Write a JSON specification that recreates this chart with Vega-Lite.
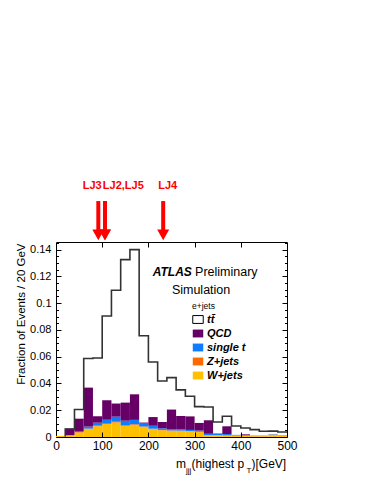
{
  "$schema": "https://vega.github.io/schema/vega-lite/v6.json",
  "width": 231,
  "height": 195,
  "autosize": {"type": "none"},
  "padding": {"left": 56, "top": 242, "right": 91, "bottom": 53},
  "background": "white",
  "config": {
    "view": {"stroke": "#000", "strokeWidth": 1},
    "font": "Liberation Sans",
    "axis": {"grid": false, "domain": false, "tickColor": "#000", "tickWidth": 1, "labelColor": "#000", "labelFont": "Liberation Sans", "titleFont": "Liberation Sans", "titleColor": "#000"}
  },
  "resolve": {"axis": {"x": "independent", "y": "independent"}},
  "datasets": {
    "hist": [
      {"lo": 0, "hi": 20, "w": 0.0008, "wz": 0.0008, "wzs": 0.0008, "all": 0.0008, "tt": 0.0003},
      {"lo": 20, "hi": 40, "w": 0.0010, "wz": 0.0012, "wzs": 0.0015, "all": 0.0063, "tt": 0.0060},
      {"lo": 40, "hi": 60, "w": 0.0033, "wz": 0.0037, "wzs": 0.0045, "all": 0.0137, "tt": 0.0205},
      {"lo": 60, "hi": 80, "w": 0.0058, "wz": 0.0063, "wzs": 0.0078, "all": 0.0369, "tt": 0.0586},
      {"lo": 80, "hi": 100, "w": 0.0080, "wz": 0.0085, "wzs": 0.0107, "all": 0.0155, "tt": 0.0590},
      {"lo": 100, "hi": 120, "w": 0.0098, "wz": 0.0104, "wzs": 0.0128, "all": 0.0274, "tt": 0.0904},
      {"lo": 120, "hi": 140, "w": 0.0108, "wz": 0.0114, "wzs": 0.0152, "all": 0.0250, "tt": 0.1096},
      {"lo": 140, "hi": 160, "w": 0.0082, "wz": 0.0087, "wzs": 0.0122, "all": 0.0257, "tt": 0.1325},
      {"lo": 160, "hi": 180, "w": 0.0090, "wz": 0.0095, "wzs": 0.0128, "all": 0.0319, "tt": 0.1400},
      {"lo": 180, "hi": 200, "w": 0.0075, "wz": 0.0079, "wzs": 0.0105, "all": 0.0108, "tt": 0.0757},
      {"lo": 200, "hi": 220, "w": 0.0058, "wz": 0.0062, "wzs": 0.0084, "all": 0.0149, "tt": 0.0560},
      {"lo": 220, "hi": 240, "w": 0.0050, "wz": 0.0053, "wzs": 0.0065, "all": 0.0112, "tt": 0.0418},
      {"lo": 240, "hi": 260, "w": 0.0046, "wz": 0.0049, "wzs": 0.0059, "all": 0.0205, "tt": 0.0444},
      {"lo": 260, "hi": 280, "w": 0.0045, "wz": 0.0048, "wzs": 0.0057, "all": 0.0157, "tt": 0.0352},
      {"lo": 280, "hi": 300, "w": 0.0042, "wz": 0.0045, "wzs": 0.0053, "all": 0.0154, "tt": 0.0304},
      {"lo": 300, "hi": 320, "w": 0.0037, "wz": 0.0040, "wzs": 0.0048, "all": 0.0105, "tt": 0.0227},
      {"lo": 320, "hi": 340, "w": 0.0012, "wz": 0.0014, "wzs": 0.0024, "all": 0.0125, "tt": 0.0224},
      {"lo": 340, "hi": 360, "w": 0.0012, "wz": 0.0014, "wzs": 0.0026, "all": 0.0027, "tt": 0.0112},
      {"lo": 360, "hi": 380, "w": 0.0010, "wz": 0.0012, "wzs": 0.0022, "all": 0.0080, "tt": 0.0155},
      {"lo": 380, "hi": 400, "w": 0.0010, "wz": 0.0012, "wzs": 0.0016, "all": 0.0016, "tt": 0.0082},
      {"lo": 400, "hi": 420, "w": 0.0008, "wz": 0.0010, "wzs": 0.0014, "all": 0.0020, "tt": 0.0067},
      {"lo": 420, "hi": 440, "w": 0.0006, "wz": 0.0007, "wzs": 0.0010, "all": 0.0010, "tt": 0.0055},
      {"lo": 440, "hi": 460, "w": 0.0006, "wz": 0.0007, "wzs": 0.0010, "all": 0.0010, "tt": 0.0043},
      {"lo": 460, "hi": 480, "w": 0.0016, "wz": 0.0018, "wzs": 0.0021, "all": 0.0021, "tt": 0.0044},
      {"lo": 480, "hi": 500, "w": 0.0008, "wz": 0.0009, "wzs": 0.0012, "all": 0.0012, "tt": 0.0037}
    ],
    "lj": [
      {"event": "LJ3", "m": 91.6},
      {"event": "LJ2", "m": 106},
      {"event": "LJ5", "m": 106},
      {"event": "LJ4", "m": 232}
    ]
  },
  "layer": [
    {
      "data": {"name": "hist"},
      "mark": {"type": "bar"},
      "encoding": {
        "x": {"field": "lo", "type": "quantitative", "scale": {"domain": [0, 500], "nice": false, "zero": false},
              "axis": {"orient": "bottom", "values": [0, 100, 200, 300, 400, 500], "ticks": false, "tickSize": 0, "labelPadding": 3, "labelFontSize": 12, "labelFlush": false, "labelOverlap": false, "domain": true, "domainColor": "#000", "domainWidth": 1, "zindex": 1, "title": null}},
        "x2": {"field": "hi"},
        "y": {"field": "w", "type": "quantitative", "scale": {"domain": [0, 0.1457], "nice": false, "zero": true},
              "axis": {"orient": "left", "values": [0, 0.02, 0.04, 0.06, 0.08, 0.1, 0.12, 0.14], "format": "~g", "ticks": false, "tickSize": 0, "labelPadding": 5, "labelFontSize": 11, "labelFlush": false, "labelOverlap": false,
                       "title": "Fraction of Events / 20 GeV", "titleFontSize": 11.5, "titleFontWeight": "normal", "titleAngle": 270, "titleX": -35, "titleY": 1, "titleAlign": "right", "titleBaseline": "middle"}},
        "y2": {"datum": 0},
        "color": {"datum": "W+jets", "type": "nominal",
                  "scale": {"domain": ["tt\u0304", "QCD", "single t", "Z+jets", "W+jets"], "range": ["#ffffff", "#660066", "#0f7bff", "#ff6a00", "#ffc000"]},
                  "legend": {"orient": "none", "legendX": 136, "legendY": 60, "title": "e+jets", "titleFontSize": 8.5, "titleFontWeight": "normal", "titleColor": "#000", "titleFont": "Liberation Sans", "titlePadding": 3,
                             "labelFont": "Liberation Sans", "labelFontSize": 11, "labelFontStyle": "italic", "labelFontWeight": "bold", "labelColor": "#000", "labelOffset": 3,
                             "symbolType": "M-1,-0.75H1V0.75H-1Z", "symbolSize": 110, "symbolOpacity": 1, "rowPadding": 2, "padding": 0,
                             "encode": {"symbols": {"update": {"stroke": [{"test": "datum.value === 'tt\u0304'", "value": "#000"}, {"value": "transparent"}], "strokeWidth": {"value": 1}}}}}}
      }
    },
    {
      "data": {"name": "hist"},
      "mark": {"type": "bar"},
      "encoding": {
        "x": {"field": "lo", "type": "quantitative",
              "axis": {"orient": "bottom", "values": [100, 200, 300, 400], "labels": false, "ticks": true, "tickSize": 5, "offset": -5, "domain": false, "zindex": 1, "title": null}},
        "x2": {"field": "hi"},
        "y": {"field": "wz", "type": "quantitative",
              "axis": {"orient": "left", "values": [0.02, 0.04, 0.06, 0.08, 0.1, 0.12, 0.14], "labels": false, "ticks": true, "tickSize": 5, "offset": -5, "domain": false, "zindex": 1, "title": null}},
        "y2": {"field": "w"},
        "color": {"datum": "Z+jets", "type": "nominal"}
      }
    },
    {
      "data": {"name": "hist"},
      "mark": {"type": "bar"},
      "encoding": {
        "x": {"field": "lo", "type": "quantitative",
              "axis": {"orient": "top", "values": [100, 200, 300, 400], "labels": false, "ticks": true, "tickSize": 5, "offset": -5, "domain": false, "zindex": 1, "title": null}},
        "x2": {"field": "hi"},
        "y": {"field": "wzs", "type": "quantitative",
              "axis": {"orient": "left", "values": [0.005, 0.01, 0.015, 0.025, 0.03, 0.035, 0.045, 0.05, 0.055, 0.065, 0.07, 0.075, 0.085, 0.09, 0.095, 0.105, 0.11, 0.115, 0.125, 0.13, 0.135, 0.145], "labels": false, "ticks": true, "tickSize": 2.5, "offset": -2.5, "domain": false, "zindex": 1, "title": null}},
        "y2": {"field": "wz"},
        "color": {"datum": "single t", "type": "nominal"}
      }
    },
    {
      "data": {"name": "hist"},
      "mark": {"type": "bar"},
      "encoding": {
        "x": {"field": "lo", "type": "quantitative", "axis": null},
        "x2": {"field": "hi"},
        "y": {"field": "all", "type": "quantitative",
              "axis": {"orient": "right", "values": [0.02, 0.04, 0.06, 0.08, 0.1, 0.12, 0.14], "labels": false, "ticks": true, "tickSize": 5, "offset": -5, "domain": false, "zindex": 1, "title": null}},
        "y2": {"field": "wzs"},
        "color": {"datum": "QCD", "type": "nominal"}
      }
    },
    {
      "data": {"name": "hist"},
      "mark": {"type": "line", "interpolate": "step-before", "color": "#333333", "strokeWidth": 1.6},
      "encoding": {
        "x": {"field": "hi", "type": "quantitative", "axis": null},
        "y": {"field": "tt", "type": "quantitative",
              "axis": {"orient": "right", "values": [0.005, 0.01, 0.015, 0.025, 0.03, 0.035, 0.045, 0.05, 0.055, 0.065, 0.07, 0.075, 0.085, 0.09, 0.095, 0.105, 0.11, 0.115, 0.125, 0.13, 0.135, 0.145], "labels": false, "ticks": true, "tickSize": 2.5, "offset": -2.5, "domain": false, "zindex": 1, "title": null}}
      }
    },
    {
      "data": {"name": "lj"},
      "mark": {"type": "rule", "color": "#ff0000", "strokeWidth": 4},
      "encoding": {
        "x": {"field": "m", "type": "quantitative", "axis": null},
        "y": {"datum": 0.1763, "axis": null},
        "y2": {"datum": 0.153}
      }
    },
    {
      "data": {"name": "lj"},
      "mark": {"type": "point", "shape": "M-1,-0.9L1,-0.9L0,0.9Z", "size": 144, "filled": true, "color": "#ff0000", "opacity": 1, "strokeWidth": 0},
      "encoding": {
        "x": {"field": "m", "type": "quantitative", "axis": null},
        "y": {"datum": 0.151, "axis": null}
      }
    },
    {
      "data": {"values": [{}]},
      "mark": {"type": "text", "text": "LJ3", "font": "Liberation Sans", "fontWeight": "bold", "fontSize": 11, "color": "#ff0000", "align": "center", "baseline": "middle"},
      "encoding": {"x": {"datum": 78.4, "axis": null}, "y": {"datum": 0.1873, "axis": null}}
    },
    {
      "data": {"values": [{}]},
      "mark": {"type": "text", "text": "LJ2,LJ5", "font": "Liberation Sans", "fontWeight": "bold", "fontSize": 11, "color": "#ff0000", "align": "center", "baseline": "middle"},
      "encoding": {"x": {"datum": 145.7, "axis": null}, "y": {"datum": 0.1873, "axis": null}}
    },
    {
      "data": {"values": [{}]},
      "mark": {"type": "text", "text": "LJ4", "font": "Liberation Sans", "fontWeight": "bold", "fontSize": 11, "color": "#ff0000", "align": "center", "baseline": "middle"},
      "encoding": {"x": {"datum": 241.8, "axis": null}, "y": {"datum": 0.1873, "axis": null}}
    },
    {
      "data": {"values": [{}]},
      "mark": {"type": "text", "text": "ATLAS", "font": "Liberation Sans", "fontWeight": "bold", "fontStyle": "italic", "fontSize": 12, "color": "#000", "align": "left", "baseline": "middle"},
      "encoding": {"x": {"datum": 209.3, "axis": null}, "y": {"datum": 0.1233, "axis": null}}
    },
    {
      "data": {"values": [{}]},
      "mark": {"type": "text", "text": "Preliminary", "font": "Liberation Sans", "fontSize": 12.5, "color": "#000", "align": "left", "baseline": "middle"},
      "encoding": {"x": {"datum": 301, "axis": null}, "y": {"datum": 0.1233, "axis": null}}
    },
    {
      "data": {"values": [{}]},
      "mark": {"type": "text", "text": "Simulation", "font": "Liberation Sans", "fontSize": 12.5, "color": "#000", "align": "center", "baseline": "middle"},
      "encoding": {"x": {"datum": 314, "axis": null}, "y": {"datum": 0.1096, "axis": null}}
    },
    {
      "data": {"values": [{}]},
      "mark": {"type": "text", "text": "m", "font": "Liberation Sans", "fontSize": 12, "color": "#000", "align": "left", "baseline": "alphabetic"},
      "encoding": {"x": {"datum": 259.7, "axis": null}, "y": {"datum": -0.0232, "axis": null}}
    },
    {
      "data": {"values": [{}]},
      "mark": {"type": "text", "text": "jjj", "font": "Liberation Sans", "fontSize": 8, "color": "#000", "align": "left", "baseline": "alphabetic"},
      "encoding": {"x": {"datum": 281.4, "axis": null}, "y": {"datum": -0.0267, "axis": null}}
    },
    {
      "data": {"values": [{}]},
      "mark": {"type": "text", "text": "(highest p", "font": "Liberation Sans", "fontSize": 12, "color": "#000", "align": "left", "baseline": "alphabetic"},
      "encoding": {"x": {"datum": 293.3, "axis": null}, "y": {"datum": -0.0232, "axis": null}}
    },
    {
      "data": {"values": [{}]},
      "mark": {"type": "text", "text": "T", "font": "Liberation Sans", "fontSize": 8, "color": "#000", "align": "left", "baseline": "alphabetic"},
      "encoding": {"x": {"datum": 412.3, "axis": null}, "y": {"datum": -0.0267, "axis": null}}
    },
    {
      "data": {"values": [{}]},
      "mark": {"type": "text", "text": ")[GeV]", "font": "Liberation Sans", "fontSize": 12, "color": "#000", "align": "left", "baseline": "alphabetic"},
      "encoding": {"x": {"datum": 423.2, "axis": null}, "y": {"datum": -0.0232, "axis": null}}
    }
  ]
}
